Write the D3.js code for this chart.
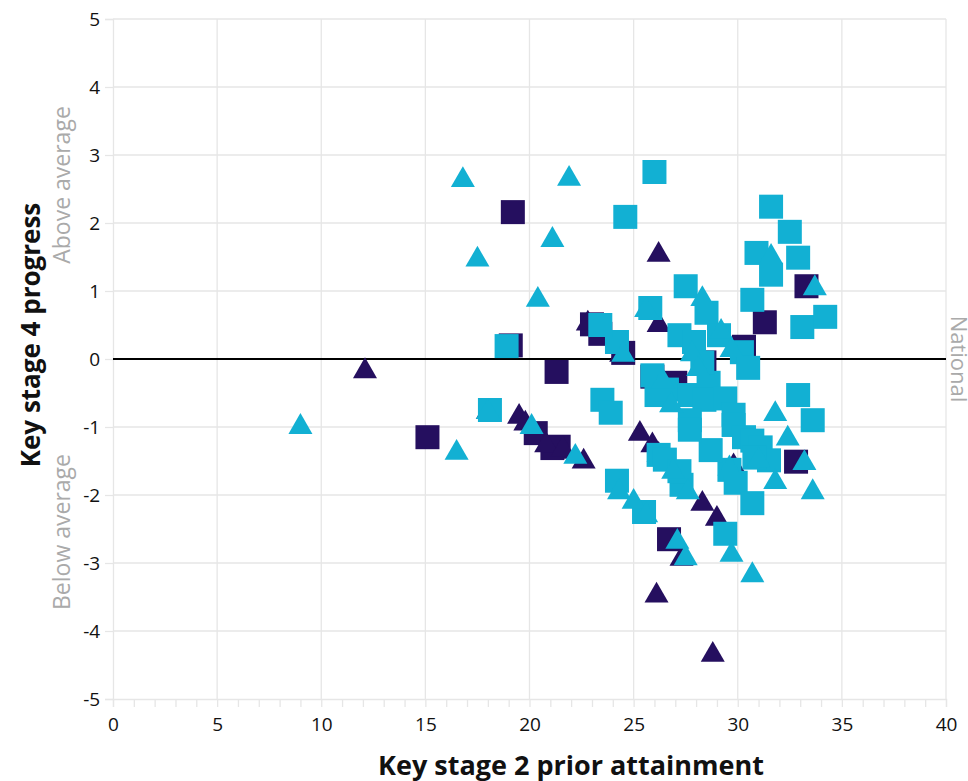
<!DOCTYPE html>
<html><head><meta charset="utf-8">
<script src="https://d3js.org/d3.v7.min.js"></script>
<style>body{margin:0;background:#fff;font-family:"Open Sans",sans-serif}</style>
</head><body>
<svg id="chart" width="968" height="781"></svg>
<script>
// [prior attainment, progress]
var cyanSquares = [[26.0,2.75],[24.6,2.09],[31.6,2.24],[32.5,1.87],[30.9,1.56],[32.9,1.49],[31.6,1.24],[27.5,1.07],[30.7,0.87],
  [28.5,0.68],[33.1,0.47],[34.2,0.62],[18.9,0.19],[25.8,0.75],[27.2,0.35],[27.9,0.25],[29.1,0.35],[30.2,0.1],[30.5,-0.13],
  [26.1,-0.53],[26.6,-0.45],[27.7,-0.53],[28.6,-0.35],[28.4,-0.6],[29.4,-0.58],[29.8,-0.82],[29.8,-0.97],[32.9,-0.53],[33.6,-0.9],
  [30.3,-1.15],[30.7,-1.2],[31.1,-1.3],[31.5,-1.49],[29.6,-1.63],[29.9,-1.82],[30.8,-1.45],[28.7,-1.34],[27.7,-0.9],[27.7,-1.04],[26.2,-1.41],
  [26.5,-1.48],[27.3,-1.85],[24.2,-1.79],[25.5,-2.25],[29.4,-2.57],[30.7,-2.12],[23.5,-0.6],[23.9,-0.79],[24.2,0.25],[18.1,-0.75],
  [25.9,-0.24],[28.3,-0.05],[27.2,-1.65],[23.4,0.5]];
var navySquares = [[19.2,2.16],[15.1,-1.15],[21.3,-0.19],[23.0,0.51],[23.4,0.37],[24.5,0.09],[25.9,-0.26],[31.3,0.54],[33.3,1.07],
  [30.3,0.18],[20.3,-1.09],[21.4,-1.29],[21.1,-1.31],[26.7,-2.65],[32.8,-1.51],[19.1,0.2],[28.4,-0.05],[27.0,-0.35]];
var cyanTriangles = [[9.0,-0.97],[16.8,2.66],[21.9,2.68],[17.5,1.49],[21.1,1.78],[20.4,0.9],[16.5,-1.35],[18.0,-0.75],[20.1,-0.97],
  [22.2,-1.41],[24.3,-1.93],[25.0,-2.07],[25.6,-2.27],[26.8,-0.65],[26.9,-1.63],[27.6,-1.93],[27.1,-2.66],[27.5,-2.9],[29.7,-2.85],
  [30.7,-3.15],[29.6,-1.58],[31.0,-1.46],[31.8,-0.78],[32.4,-1.14],[31.8,-1.78],[33.6,-1.93],[33.7,1.07],[31.6,1.53],[28.3,0.91],
  [25.6,0.75],[29.2,0.43],[27.8,0.1],[29.7,0.16],[28.1,-0.12],[24.5,0.09],[26.4,-0.3],[33.2,-1.5]];
var navyTriangles = [[12.1,-0.15],[18.0,-0.75],[19.5,-0.82],[19.8,-0.92],[20.8,-1.24],[22.6,-1.48],[25.3,-1.07],[25.9,-1.24],
  [26.2,-1.38],[28.3,-2.1],[29.0,-2.32],[27.3,-2.91],[26.1,-3.45],[28.8,-4.32],[26.2,1.56],[26.2,0.53],[22.8,0.55],[24.4,0.09],
  [28.2,-0.09],[21.6,-1.3],[29.8,-1.55]];
var xTicks = [0,5,10,15,20,25,30,35,40];
var yTicks = [-5,-4,-3,-2,-1,0,1,2,3,4,5];

var svg = d3.select('#chart');
var x = d3.scaleLinear().domain([0,40]).range([113,946]);
var y = d3.scaleLinear().domain([-5,5]).range([699,19]);
var grey = '#e6e6e6';

// grid
svg.selectAll('.gx').data(xTicks.slice(1)).enter().append('line')
  .attr('x1', d => x(d)).attr('x2', d => x(d)).attr('y1', 19).attr('y2', 699)
  .attr('stroke', grey).attr('stroke-width', 1.3);
svg.selectAll('.gy').data(yTicks.filter(d => d !== -5)).enter().append('line')
  .attr('x1', 113).attr('x2', 946).attr('y1', d => y(d)).attr('y2', d => y(d))
  .attr('stroke', grey).attr('stroke-width', 1.3);

var xAxis = svg.append('g').attr('transform', 'translate(0,699)')
  .call(d3.axisBottom(x).tickValues(d3.range(0, 41)).tickSize(8).tickFormat(d => d % 5 === 0 ? d : ''));
var yAxis = svg.append('g').attr('transform', 'translate(113,0)')
  .call(d3.axisLeft(y).tickValues(yTicks).tickSize(8).tickFormat(d => String(d)));
[xAxis, yAxis].forEach(function(a) {
  a.select('.domain').attr('stroke', grey).attr('stroke-width', 1.3);
  a.selectAll('.tick line').attr('stroke', grey).attr('stroke-width', 1.3);
  a.selectAll('text').attr('font-family', 'Open Sans').attr('font-size', 19).attr('fill', '#111');
});
xAxis.selectAll('text').attr('dy', '1.1em');
yAxis.selectAll('text').attr('dx', '-0.1em');

// national line
svg.append('line').attr('x1', 113).attr('x2', 946).attr('y1', y(0)).attr('y2', y(0))
  .attr('stroke', '#000').attr('stroke-width', 2);

var cyan = '#12b0d3', navy = '#250f5f';
var tri = d3.symbol().type(d3.symbolTriangle).size(250);
function squares(data, col) {
  svg.append('g').selectAll('rect').data(data).enter().append('rect')
    .attr('x', d => x(d[0]) - 12).attr('y', d => y(d[1]) - 12)
    .attr('width', 24).attr('height', 24).attr('fill', col);
}
function triangles(data, col) {
  svg.append('g').selectAll('path').data(data).enter().append('path')
    .attr('d', tri).attr('transform', d => 'translate(' + x(d[0]) + ',' + (y(d[1]) + 2) + ')')
    .attr('fill', col);
}
squares(navySquares, navy);
triangles(navyTriangles, navy);
squares(cyanSquares, cyan);
triangles(cyanTriangles, cyan);

// labels
svg.append('text').attr('x', 571).attr('y', 775).attr('text-anchor', 'middle')
  .attr('font-size', 27).attr('font-weight', 'bold').attr('fill', '#111').text('Key stage 2 prior attainment');
svg.append('text').attr('transform', 'translate(40,335) rotate(-90)').attr('text-anchor', 'middle')
  .attr('font-size', 26).attr('font-weight', 'bold').attr('fill', '#111').text('Key stage 4 progress');
svg.append('text').attr('transform', 'translate(70,185) rotate(-90)').attr('text-anchor', 'middle')
  .attr('font-size', 23).attr('fill', '#aaa').text('Above average');
svg.append('text').attr('transform', 'translate(70,532) rotate(-90)').attr('text-anchor', 'middle')
  .attr('font-size', 23).attr('fill', '#aaa').text('Below average');
svg.append('text').attr('transform', 'translate(951,359) rotate(90)').attr('text-anchor', 'middle')
  .attr('font-size', 22).attr('fill', '#aaa').text('National');
</script>
</body></html>
